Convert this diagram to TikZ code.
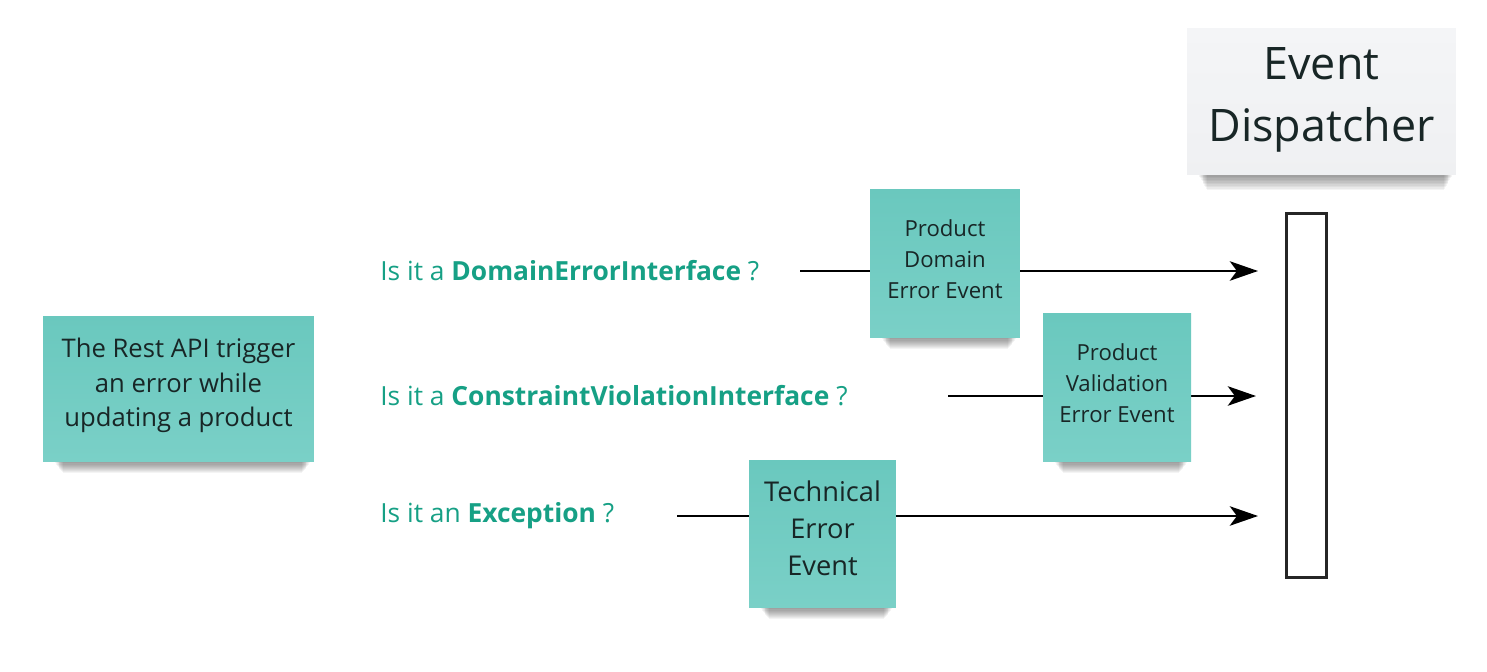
\documentclass[tikz,border=0pt]{standalone}
\usepackage{fontspec}
\setmainfont{Open Sans}
\usepackage{tikz}
\usetikzlibrary{arrows.meta,calc}
\definecolor{notegreen}{RGB}{106,200,190}
\definecolor{notelight}{RGB}{122,208,199}
\definecolor{asktext}{RGB}{22,160,133}
\definecolor{notetext}{RGB}{24,38,38}
\definecolor{headgray}{RGB}{244,245,247}
\pgfdeclarelayer{paper}
\pgfdeclarelayer{shade}
\pgfsetlayers{paper,shade,main}
\tikzset{
	sticky/.style={top color=notegreen, bottom color=notelight, draw=none, text=notetext, align=center},
	ask/.style={anchor=west, text=asktext, inner sep=0pt, font=\fontsize{15}{18}\selectfont},
	flow/.style={line width=1.7pt, -{Stealth[length=16pt, width=11pt, inset=4pt]}}
}
% soft shadow under the bottom edge of a note: (name)(depth)
\def\noteshadow(#1)(#2){\foreach \k in {1,...,10} \fill[black, opacity=0.045] ($(#1.south west)+({12+\k*0.8},0)$) rectangle ($(#1.south east)+({-4-\k*0.8},{\k*#2})$);}

\begin{document}
\begin{tikzpicture}[x=0.02cm, y=-0.02cm]
		%%%%% START %%%%%
		\begin{pgfonlayer}{paper}
		\fill[white] (0, 0) rectangle (1487, 672);
		\end{pgfonlayer}
		\useasboundingbox (0, 0) rectangle (1487, 672);
		
		\coordinate (from1) at (800, 271);
		\coordinate (to1) at (1258, 271);
		\coordinate (from2) at (948, 396);
		\coordinate (to2) at (1256, 396);
		\coordinate (from3) at (677, 516);
		\coordinate (to3) at (1258, 516);
		
		\draw[flow] (from1) -- (to1);
		\draw[flow] (from2) -- (to2);
		\draw[flow] (from3) -- (to3);
		
		\node[sticky, minimum width=5.42cm, minimum height=2.92cm, font=\fontsize{14.6}{19.5}\selectfont] (api) at (178.5, 389) {The Rest API trigger\\an error while\\updating a product\\[-12pt]\mbox{}};
		
		\node[ask] (askdomain) at (380, 271) {Is it a \textbf{DomainErrorInterface} ?};
		\node[ask] (askviolation) at (380, 396) {Is it a \textbf{ConstraintViolationInterface} ?};
		\node[ask] (askexception) at (380, 516) {Is it an \textbf{Exception} ?};
		
		\node[sticky, minimum width=3cm, minimum height=2.98cm, font=\fontsize{12.6}{17.5}\selectfont] (domain) at (945, 263.5) {Product\\Domain\\Error Event\\[-12.5pt]\mbox{}};
		\node[sticky, minimum width=2.96cm, minimum height=2.98cm, font=\fontsize{12.6}{17.5}\selectfont] (validation) at (1117, 387.5) {Product\\Validation\\Error Event\\[-12.5pt]\mbox{}};
		\node[sticky, minimum width=2.94cm, minimum height=2.96cm, font=\fontsize{15.5}{21}\selectfont] (technical) at (822.5, 534) {Technical\\Error\\Event\\[-14.5pt]\mbox{}};
		
		\node[sticky, top color=headgray, bottom color=headgray!98!black, minimum width=5.38cm, minimum height=2.94cm, font=\fontsize{25.5}{35}\selectfont] (dispatcher) at (1321.5, 101.5) {Event\\Dispatcher\\[-27pt]\mbox{}};
		\node[draw=black!85, line width=1.5pt, fill=white, minimum width=0.8cm, minimum height=7.28cm] (bar) at (1306.5, 395.5) {};
		
		\begin{pgfonlayer}{shade}
		\noteshadow(api)(1.1)
		\noteshadow(domain)(1.1)
		\noteshadow(validation)(1.1)
		\noteshadow(technical)(1.1)
		\noteshadow(dispatcher)(1.5)
		\end{pgfonlayer}
		%%%%% END %%%%%
	\end{tikzpicture}
\end{document}
